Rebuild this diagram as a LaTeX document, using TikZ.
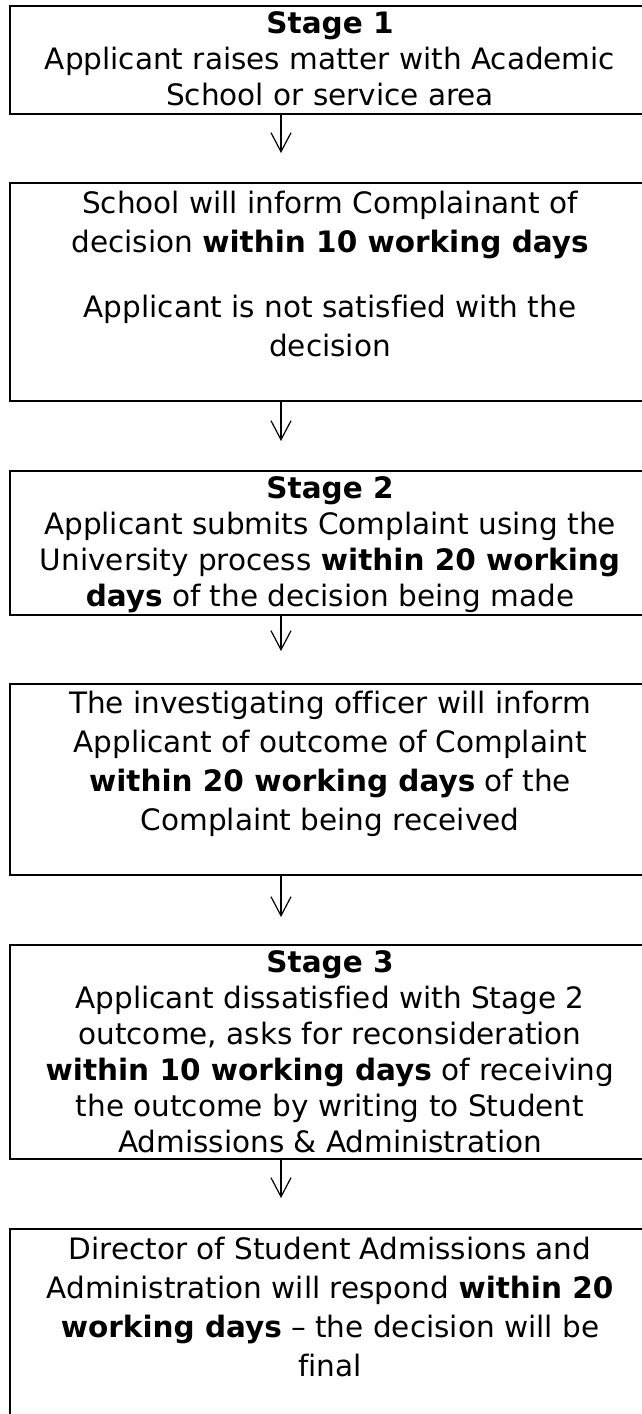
\documentclass[tikz,border=0pt]{standalone}
\usepackage{fontspec}
\setmainfont{DejaVu Sans}[Ligatures=CommonOff]
\usetikzlibrary{arrows.meta}
\tikzset{
  box/.style={draw=black, line width=1.8pt, minimum width=640pt, inner sep=0pt, outer sep=0pt},
  stagetxt/.style={anchor=north, inner sep=0pt, align=center, font=\fontsize{29.5}{36}\selectfont},
  infotxt/.style={anchor=north, inner sep=0pt, align=center, font=\fontsize{29.5}{39}\selectfont},
  arr/.style={line width=1.2pt, -{Straight Barb[length=19pt, width=20pt, line width=1.2pt]}}
}
\begin{document}
\begin{tikzpicture}[x=1pt, y=-1pt]
\useasboundingbox (0,0) rectangle (641,1414);
\fill[white] (0,0) rectangle (641,1414);
% boxes
\node[box, minimum height=108pt] (b1) at (330,60) {};
\node[box, minimum height=218pt] (b2) at (330,292) {};
\node[box, minimum height=144pt] (b3) at (330,543) {};
\node[box, minimum height=191pt] (b4) at (330,779.5) {};
\node[box, minimum height=214pt] (b5) at (330,1052) {};
\node[box, minimum height=220pt] (b6) at (330,1339) {};
% texts
\node[stagetxt] (t1) at (330,7.8) {\strut\textbf{Stage 1}\\Applicant raises matter with Academic\\School or service area};
\node[infotxt] (t2) at (330,185.7) {\strut School will inform Complainant of\\decision \textbf{within 10 working days}\\[26pt]Applicant is not satisfied with the\\decision};
\node[stagetxt] (t3) at (330,472.8) {\strut\textbf{Stage 2}\\Applicant submits Complaint using the\\University process \textbf{within 20 working}\\\textbf{days} of the decision being made};
\node[infotxt] (t4) at (330,685.7) {\strut The investigating officer will inform\\Applicant of outcome of Complaint\\\textbf{within 20 working days} of the\\Complaint being received};
\node[stagetxt] (t5) at (330,946.8) {\strut\textbf{Stage 3}\\Applicant dissatisfied with Stage 2\\outcome, asks for reconsideration\\\textbf{within 10 working days} of receiving\\the outcome by writing to Student\\Admissions \& Administration};
\node[infotxt] (t6) at (330,1231.7) {\strut Director of Student Admissions and\\Administration will respond \textbf{within 20}\\\textbf{working days} -- the decision will be\\final};
% arrows
\coordinate (ax) at (281,0);
\draw[arr] (b1.south -| ax) -- ++(0,39);
\draw[arr] (b2.south -| ax) -- ++(0,40);
\draw[arr] (b3.south -| ax) -- ++(0,36);
\draw[arr] (b4.south -| ax) -- ++(0,42);
\draw[arr] (b5.south -| ax) -- ++(0,39);
\end{tikzpicture}
\end{document}
